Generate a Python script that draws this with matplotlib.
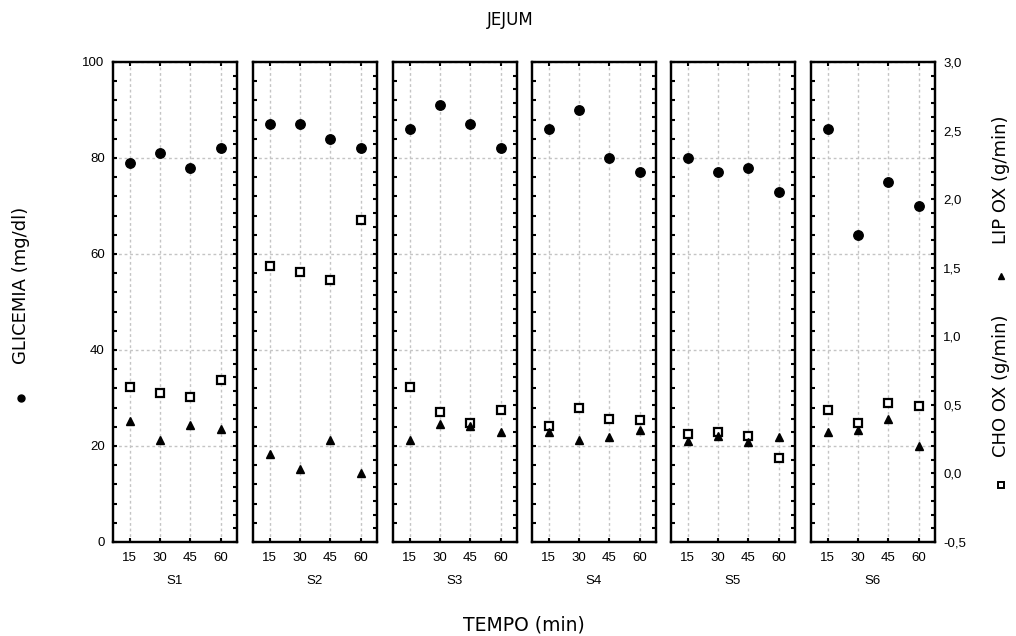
import matplotlib
matplotlib.use("Agg")
import matplotlib.pyplot as plt
from matplotlib.ticker import MultipleLocator, FuncFormatter
from matplotlib.lines import Line2D

plt.rcParams['font.family'] = ['Liberation Sans', 'DejaVu Sans']

times = [15, 30, 45, 60]
subjects = ["S1", "S2", "S3", "S4", "S5", "S6"]
glicemia = [
    [79, 81, 78, 82],
    [87, 87, 84, 82],
    [86, 91, 87, 82],
    [86, 90, 80, 77],
    [80, 77, 78, 73],
    [86, 64, 75, 70],
]
cho_ox = [
    [0.63, 0.585, 0.56, 0.68],
    [1.51, 1.47, 1.41, 1.845],
    [0.63, 0.445, 0.365, 0.46],
    [0.345, 0.48, 0.40, 0.39],
    [0.285, 0.305, 0.27, 0.11],
    [0.465, 0.365, 0.515, 0.49],
]
lip_ox = [
    [0.385, 0.245, 0.35, 0.325],
    [0.144, 0.03, 0.245, 0.0],
    [0.245, 0.36, 0.345, 0.30],
    [0.30, 0.245, 0.265, 0.32],
    [0.24, 0.275, 0.23, 0.265],
    [0.30, 0.317, 0.40, 0.20],
]

W, H = 1016, 636
fig = plt.figure(figsize=(W / 100, H / 100), dpi=100)
fig.patch.set_facecolor("white")

lefts = [113, 253, 393, 532, 671, 811]
pw = 124
top, bottom = 62, 542
grid_kw = dict(color="#c4c4c4", linestyle=(0, (2, 2)), linewidth=1.0)
comma = FuncFormatter(lambda v, p: f"{v:.1f}".replace(".", ","))

for i, s in enumerate(subjects):
    ax = fig.add_axes([lefts[i] / W, 1 - bottom / H, pw / W, (bottom - top) / H])
    ax.set_xlim(6.7, 68.0)
    ax.set_ylim(0, 100)
    ax.set_xticks(times)
    ax.set_xticklabels([str(t) for t in times], fontsize=9.5)
    ax.yaxis.set_major_locator(MultipleLocator(20))
    ax.yaxis.set_minor_locator(MultipleLocator(4))
    ax.grid(True, which="major", **grid_kw)
    ax.set_axisbelow(True)
    for sp in ax.spines.values():
        sp.set_linewidth(1.6)
    ax.tick_params(axis="y", which="both", direction="in", length=3, width=1.5,
                   left=True, right=False, labelleft=(i == 0), labelsize=9.5, pad=6)
    ax.tick_params(axis="x", which="both", direction="in", length=3, width=1.5,
                   top=True, bottom=True, pad=7)
    ax.set_xlabel(s, fontsize=9.5, labelpad=8)
    ax.plot(times, glicemia[i], linestyle="none", marker="o", markersize=6.8,
            color="black", zorder=3)

    ax2 = ax.twinx()
    ax2.set_ylim(-0.5, 3.0)
    ax2.yaxis.set_major_locator(MultipleLocator(0.5))
    ax2.yaxis.set_minor_locator(MultipleLocator(0.1))
    ax2.yaxis.set_major_formatter(comma)
    ax2.tick_params(axis="y", which="both", direction="in", length=3, width=1.5,
                    right=True, left=False, labelright=(i == 5), labelsize=9.5, pad=6)
    for sp in ax2.spines.values():
        sp.set_linewidth(1.6)
    ax2.plot(times, cho_ox[i], linestyle="none", marker="s", markersize=5.8,
             markerfacecolor="white", markeredgecolor="black", markeredgewidth=1.6, zorder=3)
    ax2.plot(times, lip_ox[i], linestyle="none", marker="^", markersize=6.2,
             color="black", zorder=3)

lab_font = ['DejaVu Sans']
fig.text(510 / W, 1 - 20 / H, "JEJUM", ha="center", va="center", fontsize=12,
         family=lab_font)
fig.text(524 / W, 1 - 625 / H, "TEMPO (min)", ha="center", va="center", fontsize=13.5,
         family=lab_font)

# left y label
fig.text(21 / W, 1 - 285 / H, "GLICEMIA (mg/dl)", rotation=90, ha="center",
         va="center", fontsize=13, family=lab_font)
fig.add_artist(Line2D([21 / W], [1 - 398 / H], marker="o", markersize=5,
                      color="black", linestyle="none", transform=fig.transFigure))

# right y labels
fig.text(1001 / W, 1 - 180 / H, "LIP OX (g/min)", rotation=90, ha="center",
         va="center", fontsize=13, family=lab_font)
fig.add_artist(Line2D([1001 / W], [1 - 276 / H], marker="^", markersize=5,
                      color="black", linestyle="none", transform=fig.transFigure))
fig.text(1001 / W, 1 - 386 / H, "CHO OX (g/min)", rotation=90, ha="center",
         va="center", fontsize=13, family=lab_font)
fig.add_artist(Line2D([1001 / W], [1 - 485 / H], marker="s", markersize=5,
                      markerfacecolor="white", markeredgecolor="black",
                      markeredgewidth=1.4, linestyle="none", transform=fig.transFigure))

fig.savefig("out.png", dpi=100, facecolor="white")
